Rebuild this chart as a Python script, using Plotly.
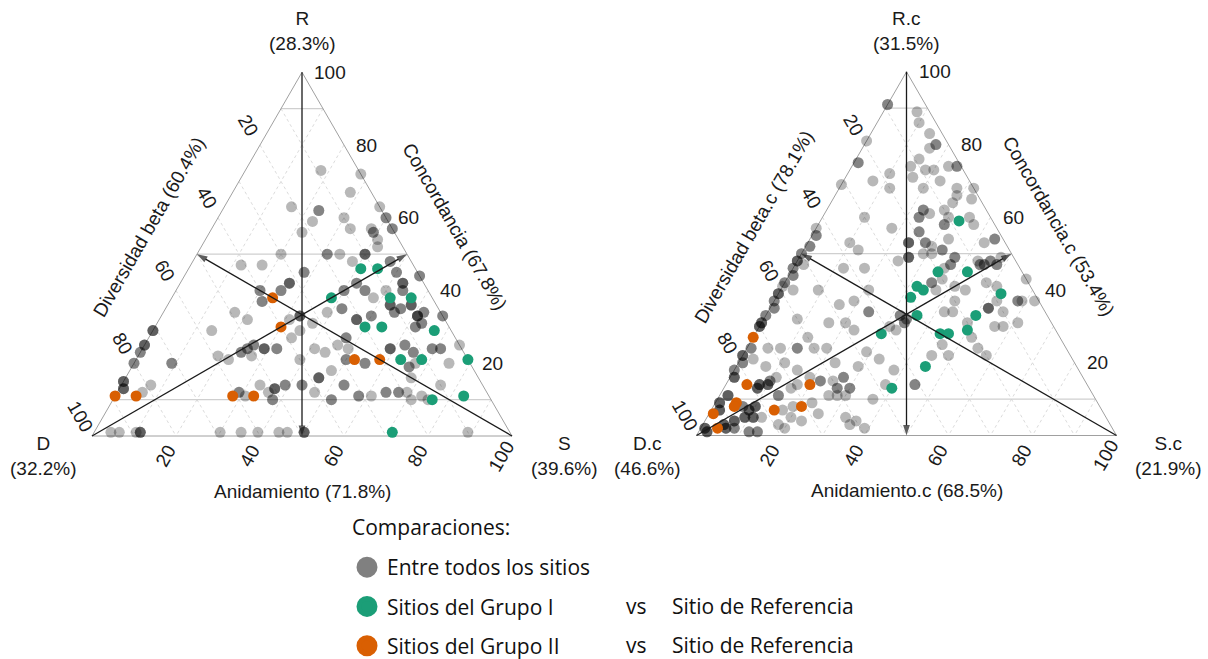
import math
import plotly.graph_objects as go

# ------------------------------------------------------------------
# DATA  (percentages R / D / S for every pairwise comparison)
# ------------------------------------------------------------------
# --- Left triangle (R, D, S) ---
left_all_R = [73,72,67,63,62,62,59,60,63,56,57,57,60,60,57,57,56,56,54,52,
              50,50,50,50,50,50,50,47,47,45,45,48,48,48,45,45,44,44,
              42,42,42,40,40,40,40,37,37,40,40,42,42,40,40,38,40,42,42,42,40,40,
              34,32,29,32,33,33,33,29,31,34,35,35,32,32,32,33,33,36,36,36,34,34,35,35,36,36,36,33,33,33,33,34,34,30,30,31,31,33,33,
              25,27,27,24,25,27,24,24,24,24,24,25,25,24,24,23,23,22,21,22,24,21,23,24,24,24,25,25,23,23,24,24,24,24,20,20,19,19,20,20,21,21,18,
              20,20,14,12,13,13,13,14,12,12,11,12,13,13,13,10,10,14,14,14,14,16,16,16,12,10,10,14,14,11,11,11,12,12,12,12,12,10,11,10,16,14,
              29,29,29,25,25,25,23,23,20,20,15,15,15,
              1,1,1,1,1,1,1,1,1,1,1,1,1,1,1]
left_all_D = [9,0,5,21,15,15,18,10,0,22,10,5,0,0,0,0,5,5,5,6,
              30,19,19,16,10,10,10,41,36,27,27,14,5,5,5,5,0,0,
              32,32,32,35,35,40,40,41,41,20,20,16,16,15,15,14,10,5,5,5,6,6,
              49,47,57,37,34,34,34,36,32,27,23,23,21,21,21,17,17,11,11,11,11,11,9,9,6,6,6,6,6,6,6,4,4,8,8,6,6,0,0,
              0,26,26,27,29,39,44,44,47,47,47,49,49,51,51,53,53,51,57,59,35,40,33,17,17,17,13,13,12,12,7,7,5,5,5,13,15,15,25,25,29,29,34,
              71,71,79,82,86,86,86,53,59,59,58,52,50,50,50,52,52,47,47,43,43,38,38,38,41,38,38,33,33,31,31,28,24,24,21,21,19,19,16,15,16,10,
              71,71,71,75,75,75,77,77,80,80,85,85,85,
              95,93,89,88,88,88,69,64,60,55,53,49,49,49,10]
left_all_S = [18,28,28,16,23,23,23,30,37,22,33,38,40,40,43,43,39,39,41,42,
              20,31,31,34,40,40,40,12,17,28,28,38,47,47,50,50,56,56,
              26,26,26,25,25,20,20,22,22,40,40,42,42,45,45,48,50,53,53,53,54,54,
              17,21,14,31,33,33,33,35,37,39,42,42,47,47,47,50,50,53,53,53,55,55,56,56,58,58,58,61,61,61,61,62,62,62,62,63,63,67,67,
              75,47,47,49,46,34,32,32,29,29,29,26,26,25,25,24,24,27,22,19,41,39,44,59,59,59,62,62,65,65,69,69,71,71,75,67,66,66,55,55,50,50,48,
              9,9,7,6,1,1,1,33,29,29,31,36,37,37,37,38,38,39,39,43,43,46,46,46,47,52,52,53,53,58,58,61,64,64,67,67,69,71,73,75,68,76,
              0,0,0,0,0,0,0,0,0,0,0,0,0,
              4,6,10,11,11,11,30,35,39,44,46,50,50,50,89]

left_g1_R = [46,46,38,38,38,30,30,29,21,21,21,10,11,1]
left_g1_D = [13,9,24,10,5,20,16,4,16,11,0,14,6,28]
left_g1_S = [41,45,38,52,57,50,54,67,63,68,79,76,83,71]

left_g2_R = [38,30,21,21,11,11,11,11]
left_g2_D = [38,40,27,21,84,89,61,56]
left_g2_S = [24,30,52,58,5,0,28,33]

# --- Right triangle (R.c, D.c, S.c) ---
right_all_R = [91,91,89,86,83,80,80,79,81,76,74,74,74,74,75,75,72,70,69,71,73,73,70,68,68,68,68,66,64,65,
               62,62,60,60,61,62,58,58,60,58,60,57,60,53,51,53,53,53,56,56,53,53,52,54,53,54,54,48,49,49,49,50,51,51,49,49,48,48,48,49,
               50,46,47,47,47,47,47,47,47,47,42,42,43,40,41,40,42,41,43,37,37,37,37,37,35,35,35,34,32,32,37,34,34,31,31,30,30,25,22,22,27,24,22,14,14,33,33,31,31,
               48,48,48,46,46,47,46,46,41,42,42,40,39,39,39,40,36,37,34,34,32,31,31,29,30,29,31,31,31,30,30,30,24,24,24,24,27,24,24,20,19,23,21,18,21,19,20,18,16,
               14,14,14,13,13,13,14,14,14,15,15,16,11,11,13,14,15,15,15,13,13,16,16,13,13,11,11,11,10,14,
               11,11,11,7,7,7,8,8,7,7,7,8,8,8,5,5,5,4,4,4,5,5,5,5,7,8,9,5,4,6,3,2,5,4,3,3,3,2,2,2,2,2,1,1,1,1,3,2,40,
               57,55,55,52,52,50,50,44,44,37,37,35,35,33,33,24,24,22,22,22,20,20,18,18,16,16,16,9,9,9,2,2,2,1,1,1]
right_all_D = [9,9,3,4,3,3,3,5,19,9,12,1,1,3,24,24,18,23,31,13,9,7,7,12,4,0,20,5,7,2,
               15,15,17,17,14,10,12,12,5,5,30,25,10,37,36,23,23,23,19,19,19,19,18,13,5,2,2,28,25,25,25,19,16,16,14,14,9,6,6,3,
               21,18,16,16,9,9,8,8,5,5,23,23,20,23,18,16,10,8,0,5,5,4,1,10,13,13,13,10,34,34,20,24,22,20,8,12,14,29,29,33,21,21,20,41,41,35,35,35,35,
               52,52,52,54,54,51,42,37,59,58,58,57,61,61,61,51,48,44,42,42,60,53,49,48,39,38,69,69,69,70,70,70,71,68,64,64,60,60,57,57,52,48,46,44,76,74,69,67,65,
               78,78,78,79,79,79,76,76,76,75,75,73,75,75,71,69,63,63,60,60,60,57,57,57,57,63,61,59,53,48,
               87,87,87,91,91,91,85,85,84,84,84,82,82,82,86,86,86,89,89,89,84,84,84,82,76,73,68,75,73,68,79,78,62,60,92,92,92,92,92,92,90,90,87,87,85,85,62,59,39,
               43,44,44,47,47,50,50,55,55,63,63,64,64,67,67,75,75,78,78,78,79,79,82,82,83,83,83,90,90,90,97,97,97,97,97,97]
right_all_S = [0,0,8,10,14,17,17,16,0,15,14,25,25,23,1,1,10,7,0,16,18,20,23,20,28,32,12,29,29,33,
               23,23,23,23,25,28,30,30,35,37,10,18,30,10,13,24,24,24,25,25,28,28,30,33,42,44,44,24,26,26,26,31,33,33,37,37,43,46,46,48,
               29,36,37,37,44,44,45,45,48,48,35,35,37,37,41,44,48,51,57,58,58,59,62,53,52,52,52,56,34,34,43,42,44,49,61,58,56,46,49,45,52,55,58,45,45,32,32,34,34,
               0,0,0,0,0,2,12,17,0,0,0,3,0,0,0,9,16,19,24,24,8,16,20,23,31,33,0,0,0,0,0,0,5,8,12,12,13,16,19,23,29,29,33,38,3,7,11,15,19,
               8,8,8,8,8,8,10,10,10,10,10,11,14,14,16,17,22,22,25,27,27,27,27,30,30,26,28,30,37,38,
               2,2,2,2,2,2,7,7,9,9,9,10,10,10,9,9,9,7,7,7,11,11,11,13,17,19,23,20,23,26,18,20,33,36,5,5,5,6,6,6,8,8,12,12,14,14,35,39,21,
               0,1,1,1,1,0,0,1,1,0,0,1,1,0,0,1,1,0,0,0,1,1,0,0,1,1,1,1,1,1,1,1,1,2,2,2]

right_g1_R = [59,45,45,41,40,38,39,33,33,29,28,28,19,28,13]
right_g1_D = [8,20,13,27,26,30,8,17,31,21,28,26,36,42,47]
right_g1_S = [33,35,42,32,34,32,53,50,36,50,44,46,45,30,40]

right_g2_R = [27,14,14,9,8,6,7,8,2]
right_g2_D = [73,81,66,86,87,93,78,71,94]
right_g2_S = [0,5,20,5,5,1,15,21,4]

# --- Labels ---
vertex_names = {"left": ["R", "D", "S"], "right": ["R.c", "D.c", "S.c"]}
vertex_pct = {"left": ["28.3%", "32.2%", "39.6%"], "right": ["31.5%", "46.6%", "21.9%"]}
axis_titles = {"left": ["Diversidad beta (60.4%)", "Concordancia (67.8%)", "Anidamiento (71.8%)"],
               "right": ["Diversidad beta.c (78.1%)", "Concordancia.c (53.4%)", "Anidamiento.c (68.5%)"]}
tick_values = [20, 40, 60, 80, 100]
grid_levels = [10, 20, 30, 40, 50, 60, 70, 80, 90]
r_ref_levels = [10, 50, 90]

legend_title = "Comparaciones:"
legend_names = ["Entre todos los sitios", "Sitios del Grupo I", "Sitios del Grupo II"]
legend_ref = ["vs", "Sitio de Referencia"]

# ------------------------------------------------------------------
# STYLE / GEOMETRY
# ------------------------------------------------------------------
W, H = 1208, 659
PANELS = {"left": dict(x0=92.0, y0=436.0, side=420.0),
          "right": dict(x0=696.5, y0=435.5, side=420.0)}
SQ = math.sqrt(3) / 2
FONT = "Arial, Liberation Sans, sans-serif"
LFONT = "Open Sans, Lato, sans-serif"
TXT = "#1a1a1a"
GRAY = "rgba(0,0,0,0.28)"
GREEN = "#1b9e77"
ORANGE = "#d95f02"
MS = 11


def tern(panel, R, D, S):
    p = PANELS[panel]
    xs, ys = [], []
    for r, d, s in zip(R, D, S):
        t = float(r + d + s)
        xs.append(p["x0"] + p["side"] * (s + r / 2.0) / t)
        ys.append(p["y0"] - p["side"] * SQ * r / t)
    return xs, ys


fig = go.Figure()


def add_lines(panel, segs, color, width, dash="solid"):
    xs, ys = [], []
    for (a, b) in segs:
        x, y = tern(panel, [a[0], b[0]], [a[1], b[1]], [a[2], b[2]])
        xs += x + [None]
        ys += y + [None]
    fig.add_trace(go.Scatter(x=xs, y=ys, mode="lines", hoverinfo="skip", showlegend=False,
                             line=dict(color=color, width=width, dash=dash)))


series = {
    "left": [(left_all_R, left_all_D, left_all_S, GRAY),
             (left_g1_R, left_g1_D, left_g1_S, GREEN),
             (left_g2_R, left_g2_D, left_g2_S, ORANGE)],
    "right": [(right_all_R, right_all_D, right_all_S, GRAY),
              (right_g1_R, right_g1_D, right_g1_S, GREEN),
              (right_g2_R, right_g2_D, right_g2_S, ORANGE)],
}

for panel in ("left", "right"):
    # dashed grid (constant D and constant S)
    segs = []
    for k in grid_levels:
        segs.append(((100 - k, 0, k), (0, 100 - k, k)))
        segs.append(((100 - k, k, 0), (0, k, 100 - k)))
    add_lines(panel, segs, "#d2d2d2", 0.8, "3px,3px")
    # solid reference lines of constant R
    add_lines(panel, [((k, 100 - k, 0), (k, 0, 100 - k)) for k in r_ref_levels], "#cfcfcf", 1.3)
    # outline
    add_lines(panel, [((100, 0, 0), (0, 100, 0)), ((0, 100, 0), (0, 0, 100)), ((0, 0, 100), (100, 0, 0))],
              "#a0a0a0", 1.0)
    # points
    for (R, D, S, col) in series[panel]:
        x, y = tern(panel, R, D, S)
        fig.add_trace(go.Scatter(x=x, y=y, mode="markers", showlegend=False, hoverinfo="skip",
                                 marker=dict(color=col, size=MS, line=dict(width=0))))
    # medians with arrow heads at edge mid-points
    for (a, b) in [((0, 0, 100), (50, 50, 0)), ((0, 100, 0), (50, 0, 50)), ((100, 0, 0), (0, 50, 50))]:
        x, y = tern(panel, [a[0], b[0]], [a[1], b[1]], [a[2], b[2]])
        fig.add_trace(go.Scatter(x=x, y=y, mode="lines+markers", showlegend=False, hoverinfo="skip",
                                 line=dict(color="#1a1a1a", width=1.3),
                                 marker=dict(symbol=["circle", "arrow"], size=[0, 11], color="#1a1a1a",
                                             angleref="previous", line=dict(width=0))))

    # ---- text ----
    f19 = dict(family=FONT, size=19, color=TXT)
    names, pcts = vertex_names[panel], vertex_pct[panel]
    vx, vy = tern(panel, [100, 0, 0], [0, 100, 0], [0, 0, 100])
    fig.add_annotation(x=vx[0], y=vy[0], xref="x", yref="y", text=f"{names[0]}<br>({pcts[0]})",
                       showarrow=False, font=f19, yshift=41, align="center")
    fig.add_annotation(x=vx[1], y=vy[1], xref="x", yref="y", text=f"{names[1]}<br>({pcts[1]})",
                       showarrow=False, font=f19, xshift=-49, yshift=-20, align="center")
    fig.add_annotation(x=vx[2], y=vy[2], xref="x", yref="y", text=f"{names[2]}<br>({pcts[2]})",
                       showarrow=False, font=f19, xshift=52, yshift=-20, align="center")
    # axis titles (55 px outside the edge mid-points)
    mx, my = tern(panel, [50, 50, 0], [50, 0, 50], [0, 50, 50])
    t = axis_titles[panel]
    fig.add_annotation(x=mx[0], y=my[0], xref="x", yref="y", text=t[0], showarrow=False, font=f19,
                       textangle=-60, xshift=-47.6, yshift=27.5)
    fig.add_annotation(x=mx[1], y=my[1], xref="x", yref="y", text=t[1], showarrow=False, font=f19,
                       textangle=60, xshift=47.6, yshift=27.5)
    fig.add_annotation(x=mx[2], y=my[2], xref="x", yref="y", text=t[2], showarrow=False, font=f19,
                       yshift=-55)
    # tick labels
    for k in tick_values:
        lx, ly = tern(panel, [100 - k], [k], [0])
        fig.add_annotation(x=lx[0], y=ly[0], xref="x", yref="y", text=str(k), showarrow=False, font=f19,
                           textangle=60, xshift=-11.5, yshift=20)
        rx, ry = tern(panel, [k], [0], [100 - k])
        fig.add_annotation(x=rx[0], y=ry[0], xref="x", yref="y", text=str(k), showarrow=False, font=f19,
                           xanchor="left", xshift=10)
        bx, by = tern(panel, [0], [100 - k], [k])
        fig.add_annotation(x=bx[0], y=by[0], xref="x", yref="y", text=str(k), showarrow=False, font=f19,
                           textangle=-60, xshift=-11, yshift=-20)

# ---- legend entries ----
for i, (nm, col) in enumerate(zip(legend_names, ["#808080", GREEN, ORANGE])):
    fig.add_trace(go.Scatter(x=[None], y=[None], mode="markers", name=nm, legendgroup=f"g{i}",
                             marker=dict(color=col, size=16, line=dict(color=col, width=5))))

lf = dict(family=LFONT, size=21, color="#111111")
fig.add_annotation(x=350, y=527, xref="x", yref="y", text=legend_title, showarrow=False, font=lf,
                   xanchor="left")
for yy in (606, 645):
    fig.add_annotation(x=636, y=yy, xref="x", yref="y", text=legend_ref[0], showarrow=False, font=lf)
    fig.add_annotation(x=670, y=yy, xref="x", yref="y", text=legend_ref[1], showarrow=False,
                       font=lf, xanchor="left")

fig.update_layout(
    width=W, height=H, margin=dict(l=0, r=0, t=0, b=0, autoexpand=False),
    paper_bgcolor="white", plot_bgcolor="white",
    xaxis=dict(range=[0, W], visible=False, fixedrange=True),
    yaxis=dict(range=[H, 0], visible=False, fixedrange=True),
    showlegend=True,
    legend=dict(x=347 / W, y=1 - 547 / H, xref="container", yref="container",
                xanchor="left", yanchor="top", font=lf,
                traceorder="grouped", tracegroupgap=9, bgcolor="rgba(0,0,0,0)",
                itemsizing="trace"),
)

fig.write_html("out.html", config={"displayModeBar": False})
